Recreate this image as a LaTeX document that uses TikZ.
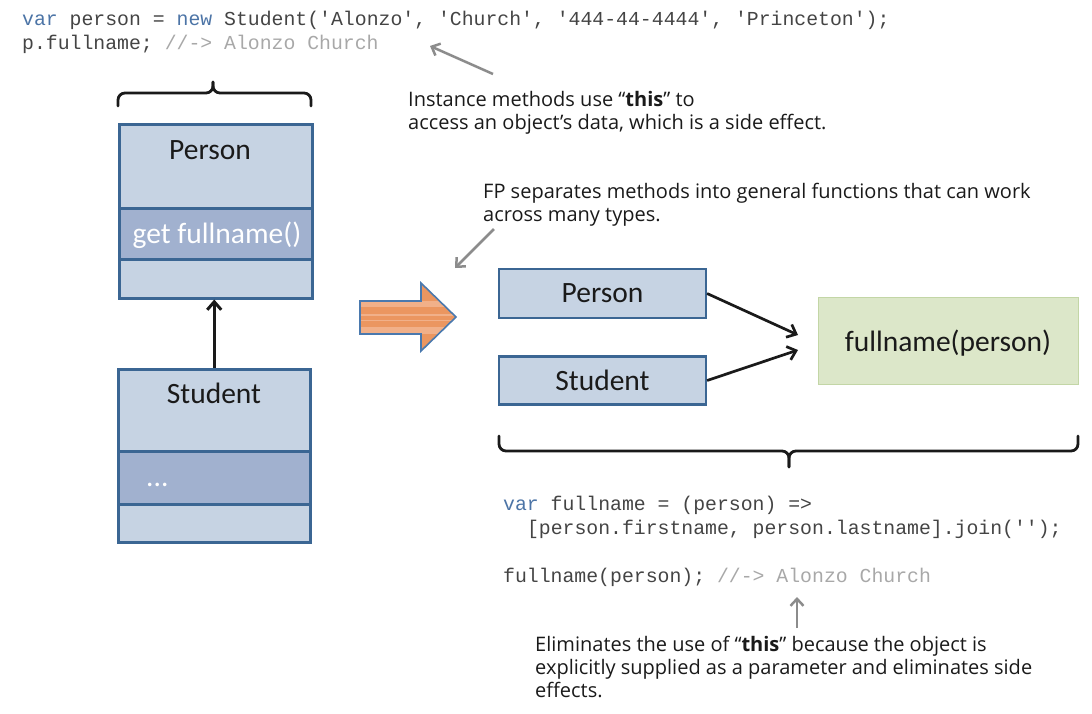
\documentclass[tikz,border=0pt]{standalone}
\usepackage{fontspec}
\setmainfont{Carlito}
\setmonofont{Liberation Mono}
\newfontfamily\annfont{Open Sans}
\usetikzlibrary{arrows.meta}
\definecolor{boxfill}{HTML}{C6D3E3}
\definecolor{boxdark}{HTML}{A1B1CF}
\definecolor{boxline}{HTML}{3B6693}
\definecolor{greenfill}{HTML}{DCE7C9}
\definecolor{greenline}{HTML}{C3D6A6}
\definecolor{codeblue}{HTML}{4C74A6}
\definecolor{codegray}{HTML}{444444}
\definecolor{commentgray}{HTML}{A8A8A8}
\definecolor{anngray}{HTML}{8C8C8C}
\definecolor{orangefill}{HTML}{EB9660}
\definecolor{orangelight}{HTML}{F1B089}
\definecolor{arrowline}{HTML}{4A79AE}
\definecolor{inkblack}{HTML}{1A1A1A}
\begin{document}
\begin{tikzpicture}[x=1pt,y=-1pt,
  code/.style={anchor=base west, inner sep=0pt, font=\ttfamily\fontsize{19.8}{24}\selectfont, text=codegray},
  ann/.style={anchor=base west, inner sep=0pt, font=\annfont\fontsize{20}{24}\selectfont, text=inkblack},
  lbl/.style={inner sep=0pt, font=\fontsize{29.5}{34}\selectfont, text=inkblack},
  comp/.style={draw=boxline, line width=2.5pt, fill=boxfill, inner sep=0pt, anchor=north west},
  rbox/.style={draw=boxline, line width=2.2pt, fill=boxfill, inner sep=0pt, minimum width=207pt, font=\fontsize{29.5}{34}\selectfont, text=inkblack},
  gbox/.style={draw=greenline, line width=1pt, fill=greenfill, inner sep=0pt, minimum width=260pt, minimum height=87pt, text depth=0pt, font=\fontsize{29.5}{34}\selectfont, text=inkblack},
  brace/.style={draw=inkblack, line width=2.8pt, rounded corners=7pt, line cap=round},
  graylink/.style={draw=anngray, line width=2.5pt, -{Straight Barb[length=7pt,width=13pt]}},
  blacklink/.style={draw=inkblack, line width=2.7pt, -{Straight Barb[length=8pt,width=14pt]}}
]
\useasboundingbox (0,0) rectangle (1092,713);

% top code
\node[code] (top1) at (22,25) {{\color{codeblue}var} person = {\color{codeblue}new} Student('Alonzo', 'Church', '444-44-4444', 'Princeton');};
\node[code] (top2) at (22,49) {p.fullname; {\color{commentgray}//-> Alonzo Church}};

% annotation 1
\node[ann] (a1a) at (408,106) {Instance methods use “\textbf{this}” to};
\node[ann] (a1b) at (408,129) {access an object’s data, which is a side effect.};
\coordinate (g1s) at (493,74);
\coordinate (g1e) at (430,46);
\draw[graylink] (g1s) -- (g1e);

% top brace
\draw[brace] (118,106) -- (118,93) -- (213,93) -- (213,82);
\draw[brace] (311,106) -- (311,93) -- (213,93) -- (213,82);

% Person class box
\node[comp, minimum width=193pt, minimum height=84pt] (pTop) at (118,123) {};
\node[comp, minimum width=193pt, minimum height=51pt, fill=boxdark] (pMid) at (118,207) {};
\node[comp, minimum width=193pt, minimum height=39pt] (pBot) at (118,258) {};
\node[lbl, anchor=base] (pName) at (210,159) {Person};
\node[lbl, anchor=base, text=white] (pMethod) at (217,243) {get fullname()};

% Student class box
\node[comp, minimum width=192pt, minimum height=82pt] (sTop) at (117,368) {};
\node[comp, minimum width=192pt, minimum height=53pt, fill=boxdark] (sMid) at (117,450) {};
\node[comp, minimum width=192pt, minimum height=38pt] (sBot) at (117,503) {};
\node[lbl, anchor=base] (sName) at (214,403) {Student};
\node[lbl, anchor=base west, text=white] (sDots) at (146,486) {...};

\draw[blacklink, line width=3pt] (sTop.north) -- (sTop.north |- pBot.south);

% orange arrow
\begin{scope}
  \clip (360,301) -- (421,301) -- (421,283) -- (456,317) -- (421,351) -- (421,334) -- (360,334) -- cycle;
  \fill[orangefill] (355,280) rectangle (460,355);
  \fill[orangelight] (355,301) rectangle (460,307);
  \fill[orangelight] (355,313.5) rectangle (460,315.5);
  \fill[orangelight] (355,319.5) rectangle (460,321);
  \fill[orangelight] (355,327) rectangle (460,334);
\end{scope}
\draw[arrowline, line width=1.6pt, line join=miter] (360,301) -- (421,301) -- (421,283) -- (456,317) -- (421,351) -- (421,334) -- (360,334) -- cycle;

% annotation 2
\node[ann] (a2a) at (483,198) {FP separates methods into general functions that can work};
\node[ann] (a2b) at (483,221) {across many types.};
\coordinate (g2s) at (494,229);
\coordinate (g2e) at (455,268);
\draw[graylink] (g2s) -- (g2e);

% right side boxes
\node[rbox, minimum height=49pt] (rPerson) at (602.5,293.5) {Person};
\node[rbox, minimum height=48pt] (rStudent) at (602.5,380.5) {Student};
\node[gbox] (fn) at (948,340.5) {fullname(person)};
\coordinate (fIn1) at (798,335);
\coordinate (fIn2) at (798,350);
\draw[blacklink] (rPerson.east) -- (fIn1);
\draw[blacklink] (rStudent.east) -- (fIn2);

% bottom brace
\draw[brace] (499,436) -- (499,451) -- (789,451) -- (789,467);
\draw[brace] (1078,436) -- (1078,451) -- (789,451) -- (789,467);

% bottom code
\node[code] (b1) at (503,510) {{\color{codeblue}var} fullname = (person) =>};
\node[code] (b2) at (526.8,534) {[person.firstname, person.lastname].join('');};
\node[code] (b3) at (503,582) {fullname(person); {\color{commentgray}//-> Alonzo Church}};

% annotation 3
\coordinate (g3s) at (797,628);
\coordinate (g3e) at (797,597);
\draw[graylink] (g3s) -- (g3e);
\node[ann] (a3a) at (535,651) {Eliminates the use of “\textbf{this}” because the object is};
\node[ann] (a3b) at (535,674) {explicitly supplied as a parameter and eliminates side};
\node[ann] (a3c) at (535,697) {effects.};
\end{tikzpicture}
\end{document}
